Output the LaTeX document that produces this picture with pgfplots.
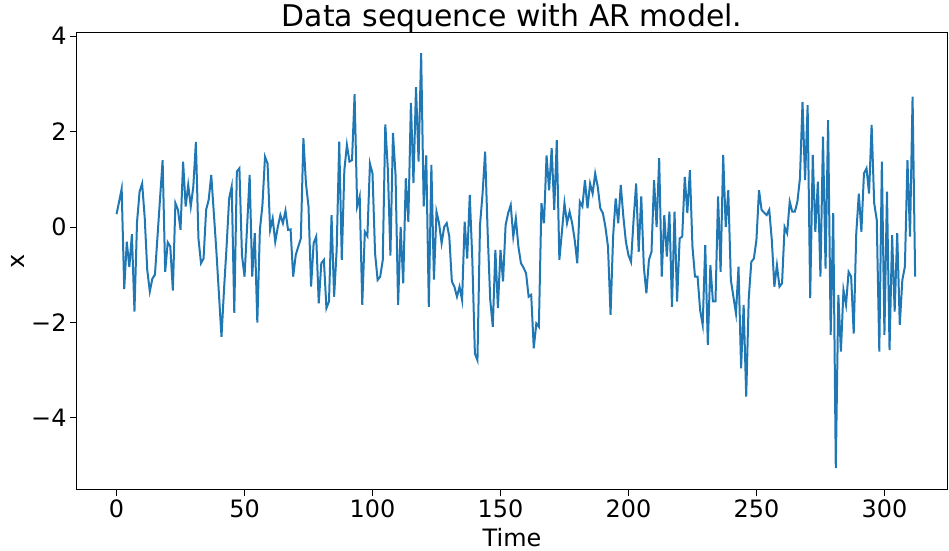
\documentclass[border=0pt]{standalone}
\usepackage{pgfplots}
\pgfplotsset{compat=1.18}
\usepackage{fontspec}
\setmainfont{DejaVu Sans}
\definecolor{c0}{HTML}{1F77B4}
\begin{document}
\begin{tikzpicture}
\useasboundingbox (-77bp,-62bp) rectangle (872bp,489bp);
\begin{axis}[
  anchor=south west, at={(0,0)},
  scale only axis, width=870bp, height=456bp,
  xmin=-15.45, xmax=324.45, ymin=-5.487, ymax=4.063,
  xtick={0,50,100,150,200,250,300},
  xticklabels={0,50,100,150,200,250,300},
  ytick={-4,-2,0,2,4},
  yticklabels={−4,−2,0,2,4},
  tick align=outside, major tick length=7bp,
  tick style={black, line width=1bp},
  xtick pos=bottom, ytick pos=left,
  axis line style={black, line width=1bp},
  ticklabel style={font=\fontsize{24}{28}\selectfont},
  xlabel={Time}, ylabel={x},
  label style={font=\fontsize{24}{28}\selectfont},
  xlabel style={yshift=-4bp},
  title={Data sequence with AR model.},
  title style={font=\fontsize{30}{34}\selectfont, at={(0.5,1)}, anchor=base, yshift=1bp},
]
\addplot[c0, line width=2bp, no marks] table[x expr=\coordindex, y index=0, header=false] {
0.27
0.53
0.80
-1.30
-0.31
-0.84
-0.15
-1.77
0.10
0.74
0.91
0.20
-0.90
-1.35
-1.08
-1.00
-0.20
0.60
1.40
-0.94
-0.32
-0.41
-1.33
0.50
0.36
-0.06
1.37
0.43
0.88
0.43
0.85
1.78
-0.24
-0.76
-0.66
0.36
0.57
1.09
0.30
-0.50
-1.40
-2.30
-1.30
-0.40
0.60
0.85
-1.80
1.16
1.23
-0.59
-1.04
0.00
1.09
-1.04
-0.13
-2.00
-0.06
0.46
1.47
1.33
-0.06
0.18
-0.31
0.00
0.25
0.08
0.34
-0.06
-0.05
-1.04
-0.59
-0.41
-0.24
1.86
0.91
0.43
-1.25
-0.34
-0.20
-1.60
-0.76
-0.69
-1.70
-1.56
0.25
-1.46
-0.48
1.79
-0.69
1.19
1.72
1.37
1.40
2.78
0.43
0.64
-1.63
-0.10
-0.19
1.33
1.12
-0.55
-1.11
-1.04
-0.70
2.15
1.20
-0.60
1.97
1.09
-1.63
0.00
-1.18
1.02
0.11
2.60
0.92
2.93
1.37
3.64
0.43
1.50
-1.67
1.30
-1.10
0.32
0.08
-0.34
0.00
0.08
-0.20
-1.14
-1.25
-1.46
-1.25
-1.53
0.11
-0.66
0.67
-0.69
-2.65
-2.79
0.04
0.70
1.58
-0.13
-1.53
-2.09
-0.48
-1.70
-0.48
-1.14
0.04
0.29
0.46
-0.20
0.18
-0.41
-0.76
-0.85
-0.97
-1.46
-1.42
-2.54
-2.02
-2.09
0.50
0.08
1.50
0.77
1.65
0.36
1.82
-0.69
-0.10
0.50
0.08
0.32
0.08
-0.27
-0.76
0.53
0.43
0.98
0.39
0.91
0.70
1.12
0.84
0.39
0.29
0.00
-0.41
-1.84
-0.20
0.60
0.08
0.88
0.22
-0.31
-0.59
-0.73
0.15
0.91
-0.52
0.64
-0.83
-1.39
-0.69
-0.52
0.98
0.00
1.44
-1.04
0.25
-0.62
0.32
-1.67
0.32
-1.56
-0.24
-0.20
1.05
0.29
1.19
-0.41
-1.04
-1.04
-1.74
-2.05
-0.38
-2.47
-0.80
-1.56
-1.56
0.64
-0.94
1.51
0.00
0.77
-1.11
-1.46
-1.81
-0.83
-2.96
-1.63
-3.55
-1.49
-0.73
-0.66
-0.27
0.77
0.36
0.30
0.25
0.36
-0.27
-1.25
-0.80
-1.25
-1.18
0.00
-0.13
0.53
0.32
0.32
0.53
1.02
2.62
0.98
2.55
-1.49
1.51
-0.10
0.95
-1.04
1.89
-0.87
2.24
-2.26
0.29
-5.05
-1.42
-2.61
-1.32
-1.63
-0.94
-1.04
-2.23
-0.13
0.70
-0.10
1.12
1.23
0.70
2.14
0.50
0.15
-2.61
1.37
-2.26
0.74
-2.58
-0.17
-1.77
-0.13
-2.05
-1.11
-0.83
1.40
-0.20
2.73
-1.04
};
\end{axis}
\end{tikzpicture}
\end{document}
